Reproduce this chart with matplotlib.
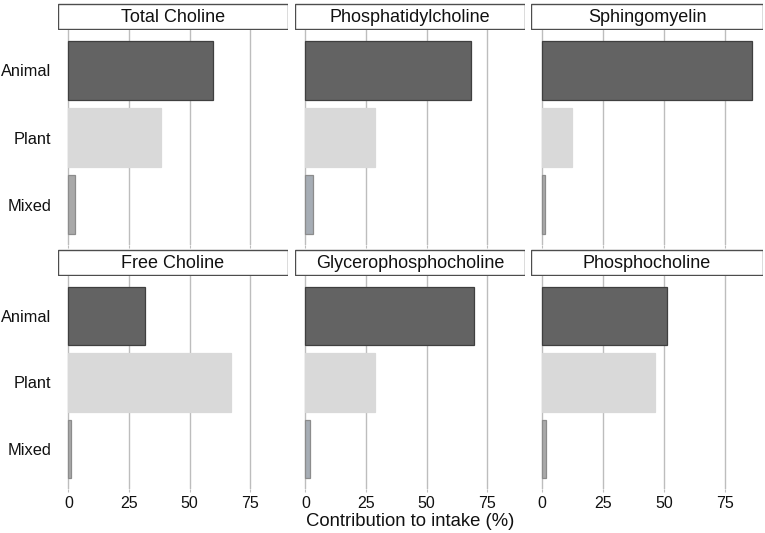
import numpy as np
import matplotlib.pyplot as plt
from matplotlib.patches import Rectangle

plt.rcParams['font.family'] = ['Liberation Sans', 'DejaVu Sans']

panels = ['Total Choline', 'Phosphatidylcholine', 'Sphingomyelin',
          'Free Choline', 'Glycerophosphocholine', 'Phosphocholine']
sources = ['Animal', 'Plant', 'Mixed']
animal = [59.4, 68.2, 86.2, 31.6, 69.4, 51.3]
plant = [38.1, 28.8, 12.3, 67.0, 28.5, 46.5]
mixed = [2.5, 3.2, 1.5, 1.2, 1.9, 1.7]

fills = ['#636363', '#d9d9d9', '#a9a9a9']
edges = ['#3f3f3f', '#d9d9d9', '#8c8c8c']
# the two phospholipid panels show a slightly bluish mixed bar
mixed_fill = ['#a9a9a9', '#a6adb5', '#a9a9a9', '#a9a9a9', '#a6adb5', '#a9a9a9']

W, H = 765, 533
fig = plt.figure(figsize=(W / 100, H / 100), dpi=100)

cols = [(58, 288), (295, 525), (531, 763)]
rows = [(30, 245), (276, 489)]
strip_h = 27

xmax = max(animal + plant + mixed)
xlim = (-0.05 * xmax, 1.05 * xmax)

for i, name in enumerate(panels):
    r, c = divmod(i, 3)
    x0, x1 = cols[c]
    y0, y1 = rows[r]
    ax = fig.add_axes([x0 / W, 1 - y1 / H, (x1 - x0) / W, (y1 - y0) / H])
    vals = [animal[i], plant[i], mixed[i]]
    ypos = np.arange(len(sources))
    cl = [fills[0], fills[1], mixed_fill[i]]
    ax.barh(ypos, vals, height=0.88, color=cl, edgecolor=edges, linewidth=0.9, zorder=3)
    ax.set_xlim(*xlim)
    ax.set_ylim(2.6, -0.6)
    ax.set_xticks([0, 25, 50, 75])
    ax.set_yticks(ypos)
    ax.xaxis.grid(True, color='#bdbdbd', linewidth=1.0, zorder=0)
    ax.set_axisbelow(True)
    for s in ax.spines.values():
        s.set_visible(False)
    ax.tick_params(axis='x', length=2, color='#bdbdbd', labelsize=11.5, pad=3, labelcolor='#111111')
    ax.tick_params(axis='y', length=0, labelsize=11.8, pad=5, labelcolor='#111111')
    if c == 0:
        ax.set_yticklabels(sources)
    else:
        ax.set_yticklabels([])
    if r == 1:
        ax.set_xticklabels(['0', '25', '50', '75'])
    else:
        ax.set_xticklabels([])

    sax = fig.add_axes([x0 / W, 1 - y0 / H, (x1 - x0) / W, strip_h / H])
    sax.set_xlim(0, 1)
    sax.set_ylim(0, 1)
    sax.axis('off')
    sax.add_patch(Rectangle((0.002, 0.02), 0.996, 0.96, facecolor='white',
                            edgecolor='#4d4d4d', linewidth=1.0))
    sax.text(0.5, 0.47, name, ha='center', va='center', fontsize=13, color='#111111')

fig.text(410 / W, 1 - 521 / H, 'Contribution to intake (%)', ha='center', va='center',
         fontsize=13.3, color='#111111')

fig.savefig('out.png', dpi=100)
